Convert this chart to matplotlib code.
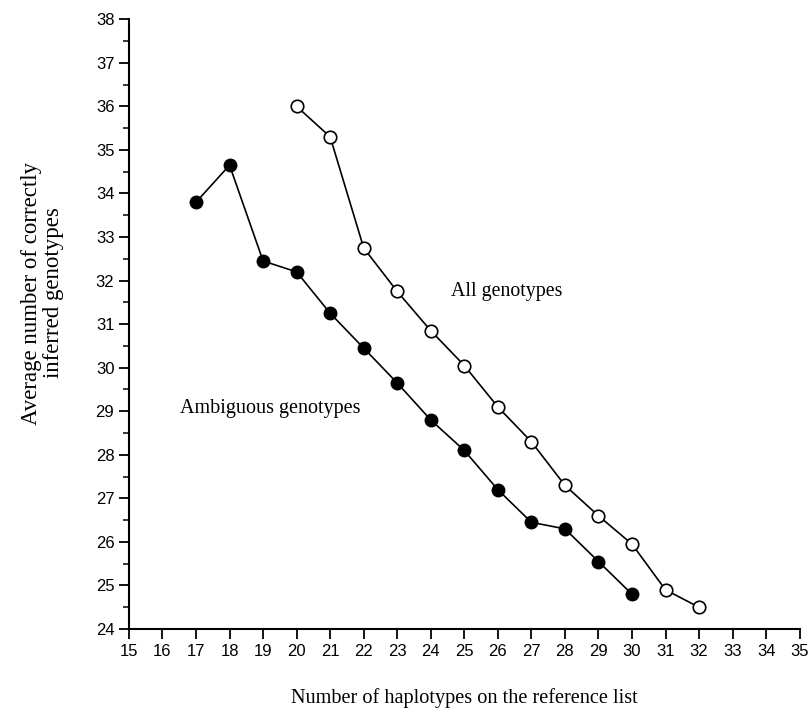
import matplotlib
matplotlib.use("Agg")
import matplotlib.pyplot as plt
from matplotlib.ticker import MultipleLocator

# ambiguous genotypes (filled circles)
amb_x = [17, 18, 19, 20, 21, 22, 23, 24, 25, 26, 27, 28, 29, 30]
amb_y = [33.8, 34.65, 32.45, 32.2, 31.25, 30.45, 29.65, 28.8, 28.1, 27.2, 26.45, 26.3, 25.55, 24.8]

# all genotypes (open circles)
all_x = [20, 21, 22, 23, 24, 25, 26, 27, 28, 29, 30, 31, 32]
all_y = [36.0, 35.3, 32.75, 31.75, 30.85, 30.05, 29.1, 28.3, 27.3, 26.6, 25.95, 24.9, 24.5]

serif = "Liberation Serif"
sans = "Liberation Sans"

fig = plt.figure(figsize=(8.11, 7.09), dpi=100)
ax = fig.add_axes([0.159, 0.1128, 0.827, 0.86])

ax.plot(amb_x, amb_y, color="black", lw=1.2, marker="o", ms=9,
        mfc="black", mec="black", clip_on=False)
ax.plot(all_x, all_y, color="black", lw=1.2, marker="o", ms=9,
        mfc="white", mec="black", mew=1.2, clip_on=False)

ax.text(26.27, 31.76, "All genotypes", family=serif, fontsize=14.3,
        ha="center", va="center")
ax.text(19.2, 29.07, "Ambiguous genotypes", family=serif, fontsize=14.5,
        ha="center", va="center")

ax.set_xlim(15, 35)
ax.set_ylim(24, 38)
ax.xaxis.set_major_locator(MultipleLocator(1))
ax.yaxis.set_major_locator(MultipleLocator(1))
ax.yaxis.set_minor_locator(MultipleLocator(0.5))

for s in ["top", "right"]:
    ax.spines[s].set_visible(False)
ax.spines["left"].set_linewidth(1.5)
ax.spines["bottom"].set_linewidth(1.5)

ax.tick_params(axis="both", which="major", length=7, width=1.3, labelsize=12)
ax.tick_params(axis="y", which="minor", length=4, width=1.1)
for lab in ax.get_xticklabels() + ax.get_yticklabels():
    lab.set_family(sans)

ax.set_xlabel("Number of haplotypes on the reference list", family=serif, fontsize=14.6)
ax.xaxis.set_label_coords(0.5, -0.097)
ax.set_ylabel("Average number of correctly\ninferred genotypes", family=serif,
              fontsize=16.5, linespacing=1.05)
ax.yaxis.set_label_coords(-0.097, 0.551)

fig.savefig("out.png", dpi=100)
